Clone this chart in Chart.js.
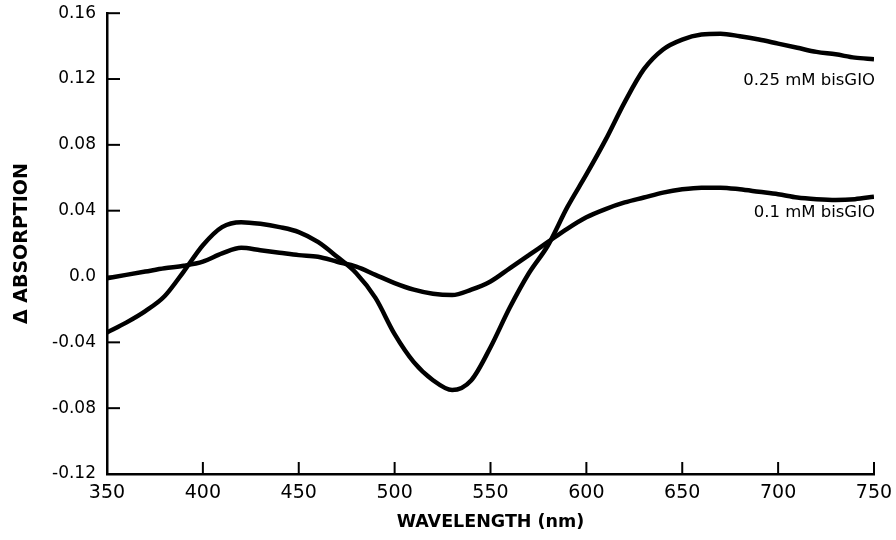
<!DOCTYPE html>
<html>
<head>
<meta charset="utf-8">
<script src="https://cdn.jsdelivr.net/npm/chart.js@4"></script>
<style>
  html, body { margin: 0; padding: 0; background: #fff; }
  #wrap { width: 896px; height: 540px; }
</style>
</head>
<body>
<div id="wrap"><canvas id="absChart" width="896" height="540"></canvas></div>
<script>
// difference spectra, sampled every 10 nm
const wavelengths = [350, 360, 370, 380, 390, 400, 410, 420, 430, 440,
                     450, 460, 470, 480, 490, 500, 510, 520, 530, 540,
                     550, 560, 570, 580, 590, 600, 610, 620, 630, 640,
                     650, 660, 670, 680, 690, 700, 710, 720, 730, 740, 750];

const bisGIO025 = [-0.034, -0.028, -0.021, -0.012, 0.003, 0.019, 0.030, 0.033, 0.032, 0.030,
                   0.027, 0.021, 0.012, 0.002, -0.013, -0.035, -0.052, -0.063, -0.069, -0.063,
                   -0.043, -0.019, 0.002, 0.019, 0.042, 0.062, 0.083, 0.106, 0.126, 0.138,
                   0.144, 0.147, 0.1475, 0.146, 0.144, 0.1415, 0.139, 0.1365, 0.135, 0.133, 0.132];

const bisGIO010 = [-0.001, 0.001, 0.003, 0.005, 0.0065, 0.009, 0.014, 0.0175, 0.016, 0.0145,
                   0.013, 0.012, 0.009, 0.006, 0.001, -0.004, -0.008, -0.0105, -0.0113, -0.008,
                   -0.003, 0.005, 0.013, 0.021, 0.029, 0.036, 0.041, 0.045, 0.048, 0.051,
                   0.053, 0.054, 0.054, 0.053, 0.0515, 0.050, 0.048, 0.047, 0.0465, 0.047, 0.0485];

const seriesNames = ['0.25 mM bisGIO', '0.1 mM bisGIO'];
const xTicks = [350, 400, 450, 500, 550, 600, 650, 700, 750];
const yTicks = [-0.12, -0.08, -0.04, 0.0, 0.04, 0.08, 0.12, 0.16];
const yTickLabels = ['-0.12', '-0.08', '-0.04', '0.0', '0.04', '0.08', '0.12', '0.16'];

const FONT = "'DejaVu Sans', sans-serif";

function points(ys) {
    return wavelengths.map((w, i) => ({ x: w, y: ys[i] }));
}

// short tick marks pointing into the plot
const inwardTicks = {
    id: 'inwardTicks',
    afterDraw(chart) {
        const ctx = chart.ctx;
        const xs = chart.scales.x, ys = chart.scales.y;
        const area = chart.chartArea;
        ctx.save();
        ctx.strokeStyle = '#000';
        ctx.lineWidth = 2;
        xTicks.forEach(v => {
            const px = xs.getPixelForValue(v);
            ctx.beginPath();
            ctx.moveTo(px, area.bottom);
            ctx.lineTo(px, area.bottom - 12);
            ctx.stroke();
        });
        yTicks.forEach(v => {
            const py = ys.getPixelForValue(v);
            ctx.beginPath();
            ctx.moveTo(area.left, py);
            ctx.lineTo(area.left + 13, py);
            ctx.stroke();
        });
        ctx.restore();
    }
};

// curve names written beside the right end of each trace
const curveLabels = {
    id: 'curveLabels',
    afterDatasetsDraw(chart) {
        const ctx = chart.ctx;
        const xs = chart.scales.x, ys = chart.scales.y;
        const spots = [0.119, 0.0387];
        ctx.save();
        ctx.fillStyle = '#000';
        ctx.font = '16.5px ' + FONT;
        ctx.textAlign = 'right';
        ctx.textBaseline = 'middle';
        seriesNames.forEach((name, i) => {
            ctx.fillText(name, xs.getPixelForValue(750) + 1, ys.getPixelForValue(spots[i]));
        });
        ctx.restore();
    }
};

function lineSet(label, ys) {
    return {
        label: label,
        data: points(ys),
        borderColor: '#000',
        borderWidth: 4.5,
        pointRadius: 0,
        cubicInterpolationMode: 'monotone',
        fill: false
    };
}

const ctx = document.getElementById('absChart').getContext('2d');
new Chart(ctx, {
    type: 'line',
    data: {
        datasets: [lineSet(seriesNames[0], bisGIO025), lineSet(seriesNames[1], bisGIO010)]
    },
    options: {
        responsive: false,
        animation: false,
        layout: { padding: { top: 7, right: 22, left: 0, bottom: 0 } },
        plugins: {
            legend: { display: false },
            tooltip: { enabled: false }
        },
        scales: {
            x: {
                type: 'linear',
                min: 350,
                max: 750,
                afterBuildTicks(scale) { scale.ticks = xTicks.map(v => ({ value: v })); },
                afterFit(scale) { scale.height = 66; },
                grid: { display: false },
                border: { display: true, color: '#000', width: 2.5 },
                ticks: {
                    color: '#000',
                    font: { family: FONT, size: 19 },
                    padding: 0,
                    maxRotation: 0
                },
                title: {
                    display: true,
                    text: 'WAVELENGTH (nm)',
                    color: '#000',
                    font: { family: FONT, size: 17.5, weight: 'bold' },
                    padding: { top: 0, bottom: 7 }
                }
            },
            y: {
                type: 'linear',
                min: -0.12,
                max: 0.16,
                afterBuildTicks(scale) { scale.ticks = yTicks.map(v => ({ value: v })); },
                afterFit(scale) { scale.width = 107; },
                grid: { display: false },
                border: { display: true, color: '#000', width: 2.5 },
                ticks: {
                    color: '#000',
                    font: { family: FONT, size: 17 },
                    padding: 3,
                    callback(value) {
                        const i = yTicks.findIndex(t => Math.abs(t - value) < 1e-9);
                        return i >= 0 ? yTickLabels[i] : '';
                    }
                },
                title: {
                    display: true,
                    text: 'Δ ABSORPTION',
                    color: '#000',
                    font: { family: FONT, size: 19, weight: 'bold' },
                    padding: { top: 11, bottom: 0 }
                }
            }
        }
    },
    plugins: [inwardTicks, curveLabels]
});
</script>
</body>
</html>
